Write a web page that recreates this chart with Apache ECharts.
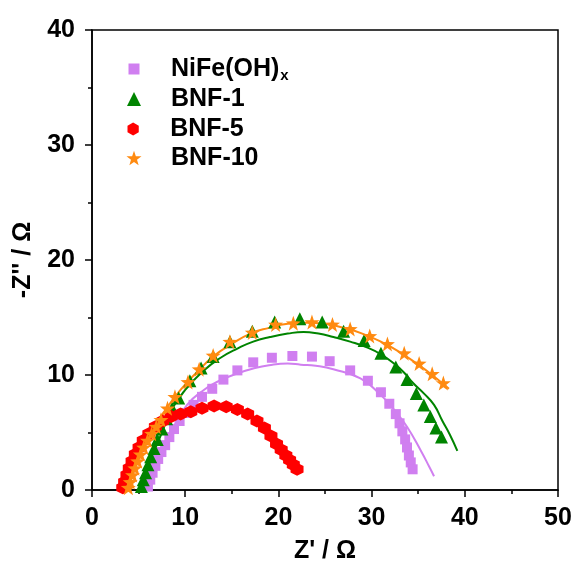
<!DOCTYPE html>
<html><head><meta charset="utf-8">
<script src="https://cdn.jsdelivr.net/npm/echarts@6/dist/echarts.min.js"></script>
<style>html,body{margin:0;padding:0;background:#fff}#c{width:578px;height:569px}</style>
</head><body><div id="c"></div>
<script>
// ---- data (Z', -Z'') ----
const nifePts = [[6.0,0.3],[6.25,0.9],[6.5,1.5],[6.8,2.1],[7.1,2.7],[7.45,3.3],[7.85,3.9],[8.3,4.6],[8.8,5.3],[9.4,6.0],[10.1,6.7],[10.9,7.4],[11.8,8.1],[12.9,8.8],[14.1,9.6],[15.6,10.4],[17.3,11.1],[19.3,11.5],[21.5,11.65],[23.6,11.6],[25.5,11.2],[27.7,10.4],[29.6,9.5],[31.0,8.5],[31.9,7.5],[32.6,6.6],[33.0,5.8],[33.3,5.1],[33.6,4.4],[33.8,3.7],[34.0,3.0],[34.2,2.4],[34.4,1.8]];
const bnf1Pts = [[5.3,0.3],[5.5,0.9],[5.75,1.5],[6.0,2.2],[6.3,2.9],[6.65,3.6],[7.0,4.4],[7.5,5.3],[8.0,6.2],[8.6,7.1],[9.3,8.0],[10.5,9.5],[11.7,10.6],[13.0,11.6],[14.8,12.9],[17.2,13.8],[19.6,14.6],[22.3,14.9],[24.7,14.6],[27.0,13.8],[29.2,13.0],[31.0,11.9],[32.6,10.7],[33.8,9.6],[34.8,8.4],[35.6,7.4],[36.3,6.4],[36.9,5.4],[37.5,4.6]];
const bnf5Pts = [[3.3,0.2],[3.5,0.7],[3.75,1.3],[4.0,1.9],[4.3,2.5],[4.65,3.1],[5.05,3.7],[5.5,4.3],[6.1,4.9],[6.8,5.5],[7.6,6.0],[8.5,6.4],[9.5,6.6],[10.6,6.8],[11.8,7.1],[13.1,7.3],[14.4,7.25],[15.6,7.0],[16.7,6.6],[17.7,6.0],[18.5,5.4],[19.2,4.7],[19.8,4.0],[20.3,3.5],[20.8,3.0],[21.2,2.6],[21.6,2.2],[22.0,1.8]];
const bnf10Pts = [[3.9,0.2],[4.1,0.7],[4.35,1.3],[4.6,1.9],[4.9,2.5],[5.2,3.1],[5.55,3.7],[5.95,4.3],[6.4,4.9],[6.9,5.5],[7.4,6.1],[8.1,7.1],[8.9,8.1],[10.3,9.4],[11.5,10.5],[13.0,11.7],[14.8,12.9],[17.2,13.7],[19.7,14.4],[21.6,14.5],[23.6,14.6],[25.8,14.4],[27.7,14.0],[29.8,13.4],[31.7,12.7],[33.5,11.9],[35.1,11.0],[36.5,10.1],[37.7,9.3]];
// fitted curves
const nifeFit = [[5.6,0],[6.5,1.8],[7.5,3.6],[8.7,5.4],[10.2,7.4],[12.0,8.7],[13.8,9.55],[15.5,10.1],[17.3,10.56],[19.0,10.85],[21.0,11.0],[22.4,10.9],[24.0,10.8],[25.9,10.5],[28.8,9.7],[31.0,8.25],[32.5,6.9],[33.8,5.5],[35.3,3.4],[36.2,2.0],[36.7,1.2]];
const bnf1Fit = [[5.1,0],[5.8,1.5],[6.6,3.2],[7.5,5.0],[8.4,6.8],[10.0,8.7],[12.0,10.4],[13.8,11.5],[15.6,12.3],[17.3,12.9],[19.1,13.3],[21.0,13.6],[22.7,13.74],[24.3,13.6],[25.9,13.3],[27.7,12.9],[29.5,12.4],[31.0,11.8],[32.4,11.0],[33.5,10.2],[34.5,9.26],[35.6,8.4],[36.7,7.4],[37.6,6.0],[38.4,4.8],[39.2,3.4]];
const bnf10Fit = [[3.8,0],[4.6,1.9],[5.5,3.7],[6.6,5.4],[8.0,7.1],[9.5,8.7],[11.2,10.2],[13.0,11.6],[15.0,12.7],[17.0,13.6],[19.0,14.1],[21.0,14.45],[23.0,14.55],[25.0,14.45],[27.0,14.1],[29.0,13.6],[31.0,12.9],[33.0,12.0],[35.0,10.9],[36.5,10.0],[38.3,8.8]];
const seriesNames = ['NiFe(OH)x','BNF-1','BNF-5','BNF-10'];
const xTicks = {min:0, max:50, interval:10};
const yTicks = {min:0, max:40, interval:10};

const C = {nife:'#d07ff0', g:'#008400', r:'#ff0000', o:'#ff8a10'};
const HEX = 'path://M0,-10 L8.66,-5 L8.66,5 L0,10 L-8.66,5 L-8.66,-5 Z';
const STAR = 'path://M0,-10 L2.35,-3.24 L9.51,-3.09 L3.8,1.24 L5.88,8.09 L0,4 L-5.88,8.09 L-3.8,1.24 L-9.51,-3.09 L-2.35,-3.24 Z';
const FONT = 'Liberation Sans, Arial, sans-serif';
const FS = 25;

const chart = echarts.init(document.getElementById('c'), null, {renderer:'canvas'});
const axisCommon = {
  axisLine:{show:true, onZero:false, lineStyle:{color:'#000', width:1.5}},
  axisTick:{show:true, inside:false, length:7, lineStyle:{color:'#000', width:1.5}},
  minorTick:{show:true, splitNumber:2, length:4, lineStyle:{color:'#000', width:1.5}},
  splitLine:{show:false},
  nameTextStyle:{color:'#000', fontSize:FS, fontWeight:'bold', fontFamily:FONT}
};
const labelStyle = m => ({color:'#000', fontSize:FS, fontWeight:'bold', fontFamily:FONT, margin:m});
function legendItem(name, top, icon, size){
  return {
    data:[{name:name, icon:icon}], left:129 - size/2, top:top, orient:'vertical',
    itemWidth:size, itemHeight:size, selectedMode:false,
    formatter: n => n === 'NiFe(OH)x' ? 'NiFe(OH){sub|x}' : n,
    textStyle:{color:'#000', fontSize:FS, fontWeight:'bold', fontFamily:FONT, lineHeight:26,
      padding:[0,0,0,32 - size/2],
      rich:{sub:{fontSize:15, fontWeight:'bold', fontFamily:FONT, color:'#000', padding:[14,0,0,1]}}}
  };
}
const scatterBase = (name, data, symbol, size, color, z) => ({
  name, type:'scatter', data, symbol, symbolSize:size, itemStyle:{color, opacity:1}, z
});
const lineBase = (data, color) => ({
  type:'line', data, smooth:true, showSymbol:false, symbol:'none', lineStyle:{color, width:2}, z:1, silent:true
});
chart.setOption({
  animation:false,
  backgroundColor:'#fff',
  grid:{left:92, right:20, top:30, bottom:76, show:true, borderColor:'#000', borderWidth:1.5, backgroundColor:'transparent'},
  xAxis:Object.assign({type:'value', name:"Z' / Ω", nameLocation:'middle', nameGap:49}, xTicks, axisCommon,
    {axisLabel:labelStyle(16)}),
  yAxis:Object.assign({type:'value', name:"-Z'' / Ω", nameLocation:'middle', nameGap:56}, yTicks, axisCommon,
    {axisLabel:labelStyle(17)}),
  legend:[
    legendItem(seriesNames[0], 51, 'rect', 11),
    legendItem(seriesNames[1], 81, 'triangle', 14),
    legendItem(seriesNames[2], 111, HEX, 13),
    legendItem(seriesNames[3], 140, STAR, 15)
  ],
  series:[
    lineBase(nifeFit, C.nife),
    lineBase(bnf1Fit, C.g),
    lineBase(bnf10Fit, C.o),
    scatterBase(seriesNames[0], nifePts, 'rect', 10, C.nife, 3),
    scatterBase(seriesNames[1], bnf1Pts, 'triangle', 13, C.g, 4),
    scatterBase(seriesNames[2], bnf5Pts, HEX, 13, C.r, 5),
    scatterBase(seriesNames[3], bnf10Pts, STAR, 15, C.o, 6)
  ]
});
</script></body></html>
